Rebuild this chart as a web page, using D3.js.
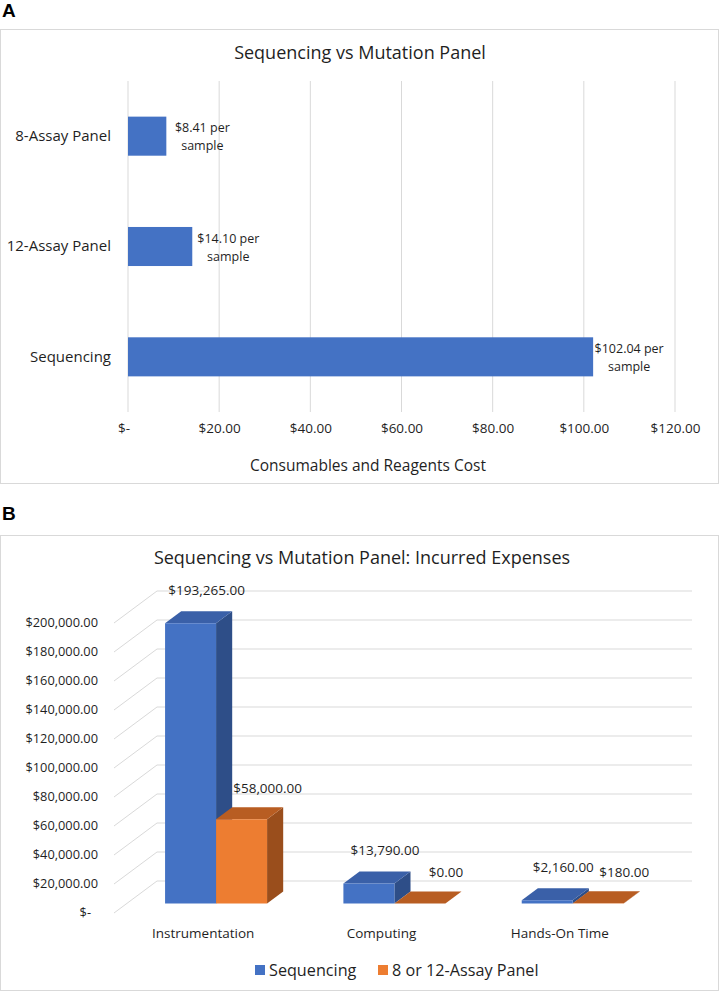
<!DOCTYPE html>
<html>
<head>
<meta charset="utf-8">
<script src="https://cdn.jsdelivr.net/npm/d3@7"></script>
<style>
  body { margin: 0; background: #fff; }
  text { font-family: "Open Sans", "Noto Sans", sans-serif; fill: #1f1f1f; }
  .panel-letter { font-family: "Liberation Sans", Arial, sans-serif; font-weight: bold; fill: #000; }
</style>
</head>
<body>
<svg id="chart" width="721" height="992"></svg>
<script>
// panel A data
const costCategories = ["8-Assay Panel", "12-Assay Panel", "Sequencing"];
const costValues = [8.41, 14.1, 102.04];
const costTicks = [0, 20, 40, 60, 80, 100, 120];

// panel B data
const expenseCategories = ["Instrumentation", "Computing", "Hands-On Time"];
const seriesNames = ["Sequencing", "8 or 12-Assay Panel"];
const sequencingExpenses = [193265, 13790, 2160];
const panelExpenses = [58000, 0, 180];
const expenseTicks = [0, 20000, 40000, 60000, 80000, 100000, 120000, 140000, 160000, 180000, 200000];

const svg = d3.select("#chart");
const grid = "#d9d9d9";
const money2 = d3.format(",.2f");

// ---------- Panel A ----------
svg.append("text").attr("class", "panel-letter")
  .attr("x", 2).attr("y", 17).attr("font-size", 19).text("A");

svg.append("rect")
  .attr("x", 0.5).attr("y", 29.5).attr("width", 718).attr("height", 454)
  .attr("fill", "#fff").attr("stroke", grid);

svg.append("text")
  .attr("x", 360).attr("y", 59).attr("text-anchor", "middle")
  .attr("font-size", 18).text("Sequencing vs Mutation Panel");

const xA = d3.scaleLinear().domain([0, 120]).range([128, 675]);
const yA = d3.scaleBand().domain(costCategories).range([81, 412])
  .paddingInner(0.646).paddingOuter(0.323);

const gA = svg.append("g");

gA.selectAll(".gridA").data(costTicks).join("line")
  .attr("x1", d => xA(d)).attr("x2", d => xA(d))
  .attr("y1", 81).attr("y2", 412)
  .attr("stroke", grid);

const axisA = d3.axisBottom(xA).tickValues(costTicks).tickSize(0)
  .tickFormat(d => d === 0 ? "$-" : "$" + money2(d));
const axisAGroup = gA.append("g").attr("transform", "translate(0,420)").call(axisA);
axisAGroup.select(".domain").remove();
axisAGroup.selectAll("text").attr("font-size", 13.5).attr("fill", "#1f1f1f")
  .attr("font-family", null).attr("dx", d => d === 0 ? -4.5 : 0);

gA.append("text")
  .attr("x", 368).attr("y", 471).attr("text-anchor", "middle")
  .attr("font-size", 15.5).text("Consumables and Reagents Cost");

const axisAY = d3.axisLeft(yA).tickSize(0).tickPadding(0);
const axisAYGroup = gA.append("g").attr("transform", "translate(111,0)").call(axisAY);
axisAYGroup.select(".domain").remove();
axisAYGroup.selectAll("text").attr("font-size", 15).attr("fill", "#1f1f1f").attr("font-family", null);

const rowsA = costCategories.map((c, i) => ({ cat: c, value: costValues[i] }));

gA.selectAll(".barA").data(rowsA).join("rect")
  .attr("x", xA(0))
  .attr("y", d => yA(d.cat))
  .attr("width", d => xA(d.value) - xA(0))
  .attr("height", yA.bandwidth())
  .attr("fill", "#4472C4");

const labA = gA.selectAll(".labA").data(rowsA).join("text")
  .attr("text-anchor", "middle").attr("font-size", 12.5)
  .attr("transform", d => `translate(${xA(d.value) + 36},${yA(d.cat) + yA.bandwidth() / 2})`);
labA.append("tspan").attr("x", 0).attr("y", -4).text(d => "$" + money2(d.value) + " per");
labA.append("tspan").attr("x", 0).attr("y", 14).text("sample");

// ---------- Panel B ----------
svg.append("text").attr("class", "panel-letter")
  .attr("x", 2).attr("y", 520).attr("font-size", 19).text("B");

svg.append("rect")
  .attr("x", 0.5).attr("y", 535.5).attr("width", 718).attr("height", 455)
  .attr("fill", "#fff").attr("stroke", grid);

svg.append("text")
  .attr("x", 362).attr("y", 564).attr("text-anchor", "middle")
  .attr("font-size", 18).text("Sequencing vs Mutation Panel: Incurred Expenses");

// simple oblique projection: depth runs from 0 (front) to 1 (back wall)
const floorY = 913;
const depthX = 43, depthY = 32;
const hB = d3.scaleLinear().domain([0, 200000]).range([0, 290]);
const xB = d3.scaleBand().domain(expenseCategories).range([114, 649]);
const xInner = d3.scaleBand().domain(seriesNames).range([0, 102]);
const innerOffset = (xB.bandwidth() - 102) / 2;
const zFront = 0.3, zBack = 0.675;
const proj = (x, v, z) => [x + z * depthX, floorY - hB(v) - z * depthY];

const gB = svg.append("g");

gB.selectAll(".gridB").data(expenseTicks).join("path")
  .attr("d", d => {
    const a = proj(114, d, 0), b = proj(114, d, 1), c = proj(649, d, 1);
    return `M${a}L${b}L${c}`;
  })
  .attr("fill", "none").attr("stroke", grid);

gB.selectAll(".tickB").data(expenseTicks).join("text")
  .attr("x", d => d === 0 ? 91 : 98).attr("y", d => floorY - hB(d))
  .attr("dy", "0.35em").attr("text-anchor", "end").attr("font-size", 12.8)
  .text(d => d === 0 ? "$-" : "$" + money2(d));

const faceColors = {
  "Sequencing": { front: "#4472C4", top: "#3A60A8", side: "#2E4E88" },
  "8 or 12-Assay Panel": { front: "#ED7D31", top: "#B85D22", side: "#9A4E1C" }
};
const labelShift = { "Sequencing": [8, -27], "8 or 12-Assay Panel": [18, -25] };

const barsB = [];
expenseCategories.forEach((c, i) => {
  barsB.push({ cat: c, series: seriesNames[0], value: sequencingExpenses[i] });
  barsB.push({ cat: c, series: seriesNames[1], value: panelExpenses[i] });
});

const poly = pts => "M" + pts.map(p => p.join(",")).join("L") + "Z";

const barG = gB.selectAll(".bar3d").data(barsB).join("g");
barG.each(function (d) {
  const g = d3.select(this);
  const x0 = xB(d.cat) + innerOffset + xInner(d.series);
  const x1 = x0 + xInner.bandwidth();
  const col = faceColors[d.series];
  // right side
  g.append("path").attr("fill", col.side).attr("d", poly([
    proj(x1, 0, zFront), proj(x1, 0, zBack), proj(x1, d.value, zBack), proj(x1, d.value, zFront)
  ]));
  // top
  g.append("path").attr("fill", col.top).attr("d", poly([
    proj(x0, d.value, zFront), proj(x1, d.value, zFront), proj(x1, d.value, zBack), proj(x0, d.value, zBack)
  ]));
  // front
  g.append("path").attr("fill", col.front).attr("d", poly([
    proj(x0, 0, zFront), proj(x1, 0, zFront), proj(x1, d.value, zFront), proj(x0, d.value, zFront)
  ]));
  const mid = proj((x0 + x1) / 2, d.value, (zFront + zBack) / 2);
  const s = labelShift[d.series];
  g.append("text")
    .attr("x", mid[0] + s[0]).attr("y", mid[1] + s[1]).attr("dy", "0.35em")
    .attr("text-anchor", "middle").attr("font-size", 13.5)
    .text("$" + money2(d.value));
});

gB.selectAll(".catB").data(expenseCategories).join("text")
  .attr("x", d => xB(d) + xB.bandwidth() / 2).attr("y", 938)
  .attr("text-anchor", "middle").attr("font-size", 13.5)
  .text(d => d);

// legend
const legendX = [255, 378];
const legend = gB.selectAll(".legB").data(seriesNames).join("g")
  .attr("transform", (d, i) => `translate(${legendX[i]},965)`);
legend.append("rect").attr("width", 10).attr("height", 10)
  .attr("fill", d => faceColors[d].front);
legend.append("text").attr("x", 14).attr("y", 5).attr("dy", "0.35em")
  .attr("font-size", 16.2).text(d => d);
</script>
</body>
</html>
